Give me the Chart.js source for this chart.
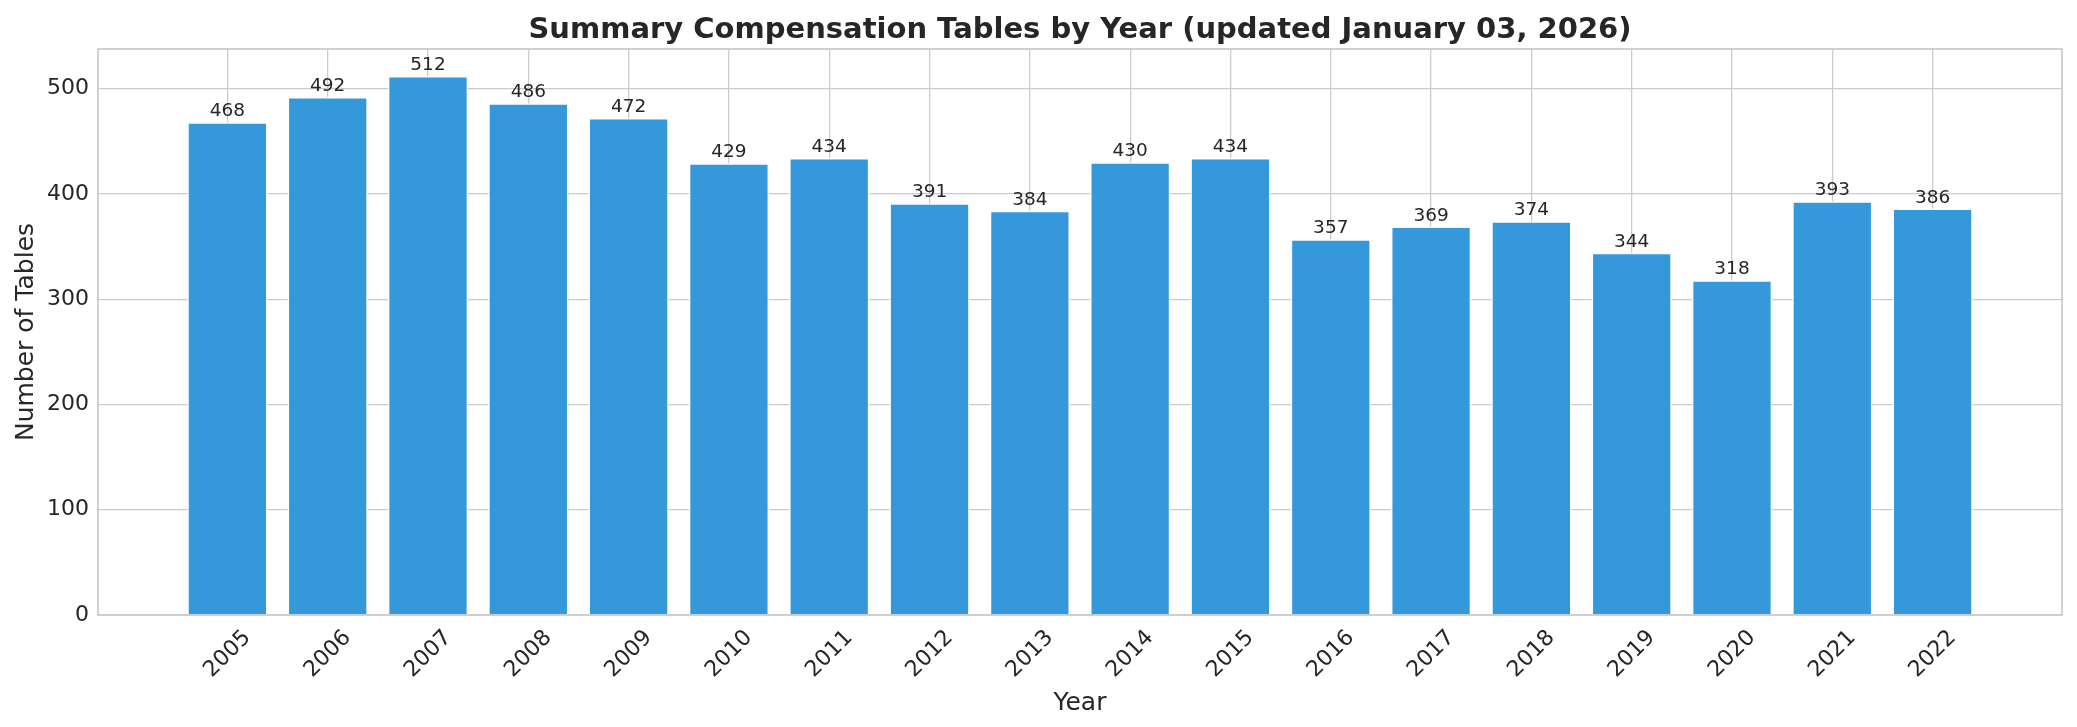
<!DOCTYPE html>
<html>
<head>
<meta charset="utf-8">
<script src="https://cdn.jsdelivr.net/npm/chart.js@4/dist/chart.umd.min.js"></script>
<style>
  html, body { margin: 0; padding: 0; background: #ffffff; }
  #grafico { display: block; }
</style>
</head>
<body>
<canvas id="grafico" width="2077" height="727"></canvas>
<script>
// dados
const anos = ['2005', '2006', '2007', '2008', '2009', '2010', '2011', '2012', '2013',
              '2014', '2015', '2016', '2017', '2018', '2019', '2020', '2021', '2022'];
const tabelas = [468, 492, 512, 486, 472, 429, 434, 391, 384,
                 430, 434, 357, 369, 374, 344, 318, 393, 386];
const ticksY = [0, 100, 200, 300, 400, 500];
const titulo = 'Summary Compensation Tables by Year (updated January 03, 2026)';

const corTexto = '#262626';
const corGrade = '#cccccc';
const fonte = 'DejaVu Sans';

// margens no estilo matplotlib (5%)
const larguraBarra = 0.8;
const spanX = (anos.length - 1) + larguraBarra;
const minX = -larguraBarra / 2 - spanX * 0.05;
const maxX = anos.length - 1 + larguraBarra / 2 + spanX * 0.05;
const maxY = Math.max(...tabelas) * 1.05;

const AREA = { left: 98, right: 2062, top: 49, bottom: 615 };

// título centrado sobre a área do gráfico (como no matplotlib)
const tituloEixo = {
    id: 'tituloEixo',
    afterDraw(chart) {
        const a = chart.chartArea;
        const ctx = chart.ctx;
        ctx.save();
        ctx.font = 'bold 29px "' + fonte + '"';
        ctx.fillStyle = corTexto;
        ctx.textAlign = 'center';
        ctx.textBaseline = 'alphabetic';
        ctx.fillText(titulo, (a.left + a.right) / 2, a.top - 11);
        ctx.restore();
    }
};

// rótulos de valor acima das barras
const rotulosBarras = {
    id: 'rotulosBarras',
    afterDatasetsDraw(chart) {
        const ctx = chart.ctx;
        const meta = chart.getDatasetMeta(0);
        ctx.save();
        ctx.font = '18.5px "' + fonte + '"';
        ctx.fillStyle = corTexto;
        ctx.textAlign = 'center';
        ctx.textBaseline = 'alphabetic';
        meta.data.forEach((barra, i) => {
            ctx.fillText(String(tabelas[i]), barra.x, barra.y - 6);
        });
        ctx.restore();
    }
};

// moldura do eixo
const moldura = {
    id: 'moldura',
    afterDraw(chart) {
        const a = chart.chartArea;
        const ctx = chart.ctx;
        ctx.save();
        ctx.strokeStyle = corGrade;
        ctx.lineWidth = 1.8;
        ctx.strokeRect(a.left, a.top, a.right - a.left, a.bottom - a.top);
        ctx.restore();
    }
};

const ctx = document.getElementById('grafico').getContext('2d');
new Chart(ctx, {
    type: 'bar',
    data: {
        datasets: [{
            label: 'Tables',
            data: tabelas.map((v, i) => ({ x: i, y: v })),
            backgroundColor: '#3498db',
            borderColor: '#ffffff',
            borderWidth: 1.5,
            borderSkipped: 'bottom',
            categoryPercentage: 1,
            barPercentage: larguraBarra
        }]
    },
    options: {
        responsive: false,
        devicePixelRatio: 1,
        animation: false,
        layout: { padding: { left: 0, right: 2077 - AREA.right, top: AREA.top, bottom: 0 } },
        plugins: {
            legend: { display: false },
            tooltip: { enabled: false },
            title: { display: false }
        },
        scales: {
            x: {
                type: 'linear',
                offset: false,
                min: minX,
                max: maxX,
                afterBuildTicks: (eixo) => { eixo.ticks = anos.map((a, i) => ({ value: i })); },
                afterFit: (eixo) => { eixo.height = 727 - AREA.bottom; },
                ticks: {
                    color: corTexto,
                    font: { family: fonte, size: 22 },
                    autoSkip: false,
                    minRotation: 45,
                    maxRotation: 45,
                    padding: 10,
                    labelOffset: 20,
                    callback: (valor) => anos[valor] ?? ''
                },
                grid: { color: corGrade, lineWidth: 1.3, drawTicks: false, offset: false },
                border: { display: false },
                title: {
                    display: true,
                    text: 'Year',
                    color: corTexto,
                    font: { family: fonte, size: 25 },
                    padding: { top: 0, bottom: 9 }
                }
            },
            y: {
                min: 0,
                max: maxY,
                afterBuildTicks: (eixo) => { eixo.ticks = ticksY.map(v => ({ value: v })); },
                afterFit: (eixo) => { eixo.width = AREA.left; },
                ticks: {
                    color: corTexto,
                    font: { family: fonte, size: 22 },
                    padding: 9
                },
                grid: { color: corGrade, lineWidth: 1.3, drawTicks: false },
                border: { display: false },
                title: {
                    display: true,
                    text: 'Number of Tables',
                    color: corTexto,
                    font: { family: fonte, size: 25 },
                    padding: { top: 11, bottom: 0 }
                }
            }
        }
    },
    plugins: [rotulosBarras, moldura, tituloEixo]
});
</script>
</body>
</html>
